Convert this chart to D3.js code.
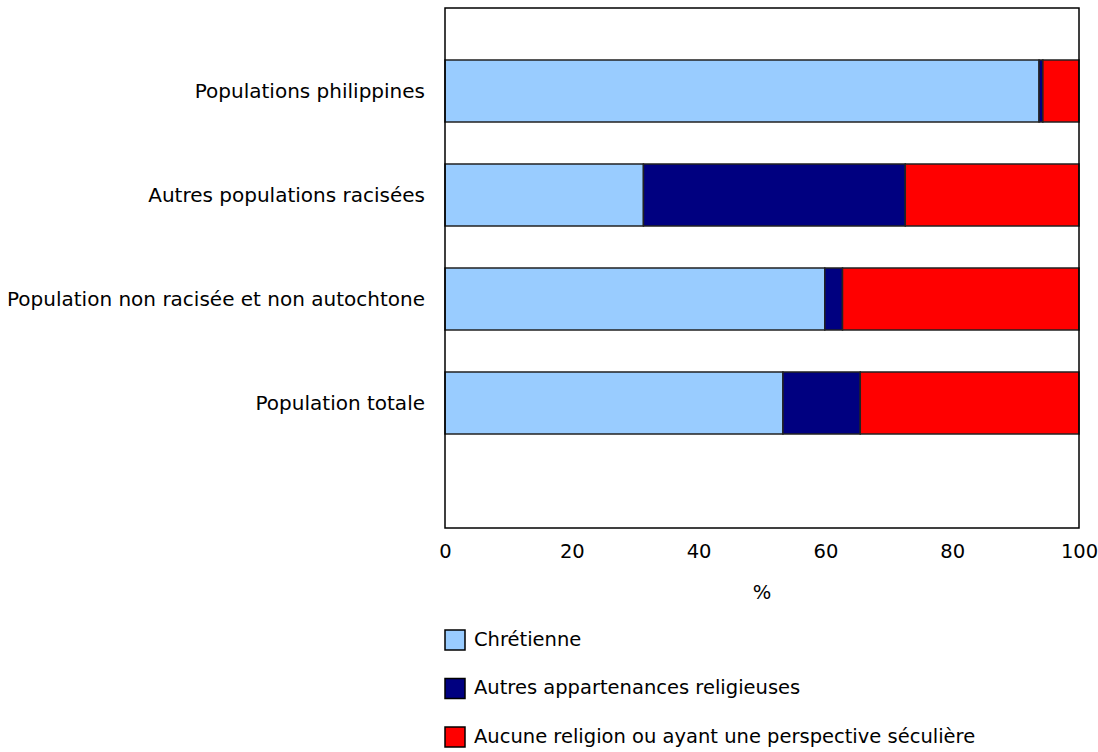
<!DOCTYPE html>
<html>
<head>
<meta charset="utf-8">
<script src="https://cdn.jsdelivr.net/npm/d3@7"></script>
<style>
  body { margin: 0; background: #fff; }
  text { font-family: "DejaVu Sans", Verdana, sans-serif; fill: #000; }
</style>
</head>
<body>
<svg id="chart" width="1098" height="752"></svg>
<script>
// Data
let categories = ["Populations philippines", "Autres populations racisées",
  "Population non racisée et non autochtone", "Population totale"];
let chretienne = [93.7, 31.3, 59.9, 53.3];
let autres = [0.6, 41.3, 2.8, 12.2];
let aucune = [5.7, 27.4, 37.3, 34.5];
let seriesNames = ["Chrétienne", "Autres appartenances religieuses",
  "Aucune religion ou ayant une perspective séculière"];
let xTicks = [0, 20, 40, 60, 80, 100];

let colors = ["#99ccff", "#000080", "#ff0000"];
let fontSize = "19.5px";

let svg = d3.select("svg#chart");

// Plot frame
let frame = { left: 445, right: 1079, top: 8, bottom: 528 };

const xScale = d3.scaleLinear()
  .domain([0, 100])
  .range([frame.left, frame.right]);

const yScale = d3.scaleBand()
  .domain(categories)
  .range([39, 455])
  .paddingInner(0.4038)
  .paddingOuter(0.2019);

// Stack series
let rows = categories.map((c, i) => ({
  cat: c, s0: chretienne[i], s1: autres[i], s2: aucune[i]
}));
let stacked = d3.stack().keys(["s0", "s1", "s2"])(rows);

stacked.forEach((layer, k) => {
  svg.append("g")
    .selectAll("rect")
    .data(layer)
    .join("rect")
    .attr("x", d => xScale(d[0]))
    .attr("y", d => yScale(d.data.cat))
    .attr("width", d => xScale(d[1]) - xScale(d[0]))
    .attr("height", yScale.bandwidth())
    .attr("fill", colors[k])
    .attr("stroke", "#222")
    .attr("stroke-width", 1.5);
});

// Frame
svg.append("rect")
  .attr("x", frame.left)
  .attr("y", frame.top)
  .attr("width", frame.right - frame.left)
  .attr("height", frame.bottom - frame.top)
  .attr("fill", "none")
  .attr("stroke", "#000")
  .attr("stroke-width", 1.5);

// Bottom axis (labels only)
let bottomAxis = d3.axisBottom(xScale).tickValues(xTicks).tickSize(0).tickPadding(16);
let axisG = svg.append("g")
  .attr("transform", "translate(0," + frame.bottom + ")")
  .call(bottomAxis);
axisG.select(".domain").remove();
axisG.selectAll("text")
  .attr("font-size", fontSize)
  .attr("font-family", "DejaVu Sans, Verdana, sans-serif");

svg.append("text")
  .attr("text-anchor", "middle")
  .attr("x", xScale(50))
  .attr("y", 599)
  .attr("font-size", fontSize)
  .text("%");

// Category labels
svg.append("g")
  .selectAll("text")
  .data(categories)
  .join("text")
  .attr("x", 425)
  .attr("y", d => yScale(d) + yScale.bandwidth() / 2)
  .attr("dy", "0.35em")
  .attr("text-anchor", "end")
  .attr("font-size", "20px")
  .text(d => d);

// Legend
let legend = svg.append("g")
  .selectAll("g")
  .data(seriesNames)
  .join("g")
  .attr("transform", (d, i) => "translate(445," + (630 + i * 48.5) + ")");

legend.append("rect")
  .attr("width", 20)
  .attr("height", 20)
  .attr("fill", (d, i) => colors[i])
  .attr("stroke", "#000")
  .attr("stroke-width", 1.5);

legend.append("text")
  .attr("x", 29)
  .attr("y", 9)
  .attr("dy", "0.35em")
  .attr("font-size", fontSize)
  .text(d => d);
</script>
</body>
</html>
